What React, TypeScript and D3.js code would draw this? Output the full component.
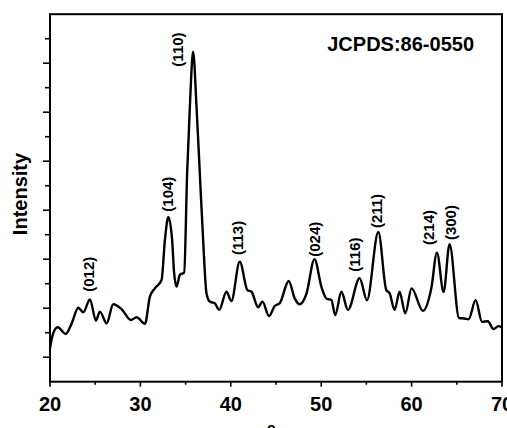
import * as d3 from "d3";

// XRD pattern (2θ in degrees, intensity in arbitrary units)
const twoTheta = [
  20.0, 20.36, 20.85, 21.73, 22.4, 23.13, 23.68, 24.42, 25.08, 25.52, 26.27, 26.99,
  27.92, 28.95, 29.58, 30.5, 31.05, 31.6, 32.34, 32.71, 33.09, 33.51, 33.73, 34.0,
  34.36, 34.84, 35.17, 35.47, 35.83, 36.21, 36.57, 36.94, 37.31, 37.68, 38.23, 38.71,
  39.52, 40.06, 40.99, 41.84, 42.29, 43.02, 43.5, 44.23, 44.86, 45.41, 46.41, 47.07,
  47.62, 48.36, 49.26, 50.02, 50.57, 51.13, 51.55, 52.23, 52.96, 54.25, 55.06, 56.32,
  57.2, 57.57, 58.12, 58.67, 59.3, 60.0, 61.25, 62.18, 62.8, 63.54, 64.2, 65.25,
  65.82, 66.3, 67.09, 67.79, 68.43, 69.06, 69.61, 69.94,
];
const intensity = [
  1.36, 1.98, 2.22, 1.95, 2.38, 3.02, 2.83, 3.36, 2.49, 2.86, 2.38, 3.16,
  2.96, 2.52, 2.63, 2.36, 3.47, 3.81, 4.15, 5.78, 6.72, 5.78, 4.44, 3.88,
  4.36, 4.45, 8.52, 11.21, 13.47, 11.21, 8.52, 5.78, 3.61, 3.27, 3.2, 2.93,
  3.67, 3.29, 4.9, 3.74, 3.67, 3.04, 3.27, 2.68, 3.09, 3.2, 4.11, 3.4,
  3.16, 3.58, 5.0, 3.88, 3.4, 3.33, 2.72, 3.67, 2.93, 4.22, 3.33, 6.11,
  3.74, 3.61, 2.93, 3.67, 2.79, 3.81, 2.89, 3.81, 5.27, 3.66, 5.61, 2.6,
  2.58, 2.55, 3.33, 2.44, 2.47, 2.15, 2.27, 2.23,
];

// peak annotations: Miller index, 2θ of the label, intensity at the label's lower end
const hkl = ["(012)", "(104)", "(110)", "(113)", "(024)", "(116)", "(211)", "(214)", "(300)"];
const hklTheta = [24.42, 33.07, 34.18, 40.88, 49.36, 53.81, 56.28, 61.99, 64.45];
const hklBase = [3.67, 6.94, 12.86, 5.17, 5.1, 4.49, 6.27, 5.58, 5.78];

const xTicks = [20, 30, 40, 50, 60, 70];
const xMinor = [25, 35, 45, 55, 65];
const cardLabel = "JCPDS:86-0550";

const W = 507;
const H = 428;
const m = { left: 50, right: 502, top: 14.2, bottom: 381.7 };
const font = "'Liberation Sans', Arial, sans-serif";

export default function App() {
  const x = d3.scaleLinear().domain([20, 70]).range([m.left, m.right]);
  const y = d3.scaleLinear().domain([0, 15]).range([m.bottom, m.top]);

  const line = d3
    .line<number>()
    .x((d) => x(d))
    .y((_, i) => y(intensity[i]))
    .curve(d3.curveMonotoneX);

  const yTicks = d3.range(1, 15);

  return (
    <svg
      width={W}
      height={H}
      style={{ position: "absolute", left: 0, top: 0 }}
      fontFamily={font}
      fontWeight="bold"
    >
      <rect width={W} height={H} fill="#fff" />

      <path d={line(twoTheta) ?? ""} fill="none" stroke="#000" strokeWidth={2.4} strokeLinejoin="round" />

      {/* frame */}
      <rect
        x={m.left}
        y={m.top}
        width={m.right - m.left}
        height={m.bottom - m.top}
        fill="none"
        stroke="#000"
        strokeWidth={2}
      />

      {/* y ticks, no labels */}
      {yTicks.map((t) => (
        <line
          key={"y" + t}
          x1={m.left}
          x2={m.left - (t % 2 === 1 ? 7 : 5)}
          y1={y(t)}
          y2={y(t)}
          stroke="#000"
          strokeWidth={1.6}
        />
      ))}

      {/* x ticks */}
      {xTicks.map((t) => (
        <g key={"x" + t}>
          <line x1={x(t)} x2={x(t)} y1={m.bottom} y2={m.bottom + 5} stroke="#000" strokeWidth={1.6} />
          <text x={x(t)} y={410.7} textAnchor="middle" fontSize={20}>
            {t}
          </text>
        </g>
      ))}
      {xMinor.map((t) => (
        <line key={"xm" + t} x1={x(t)} x2={x(t)} y1={m.bottom} y2={m.bottom + 3} stroke="#000" strokeWidth={1.6} />
      ))}

      {/* axis titles (the x title is cropped off in the picture, only its degree mark peeks in) */}
      <text transform="translate(27,194) rotate(-90)" textAnchor="middle" fontSize={20}>
        Intensity
      </text>
      <text x={x(45.7)} y={448} textAnchor="end" fontSize={20}>
        2θ (<tspan dy={-15} fontSize={14}>o</tspan>
        <tspan dy={15}>)</tspan>
      </text>

      <text x={474} y={50.7} textAnchor="end" fontSize={20}>
        {cardLabel}
      </text>

      {hkl.map((h, i) => (
        <text
          key={h}
          transform={`translate(${x(hklTheta[i])},${y(hklBase[i])}) rotate(-90)`}
          dy="0.3em"
          fontSize={15}
        >
          {h}
        </text>
      ))}
    </svg>
  );
}
